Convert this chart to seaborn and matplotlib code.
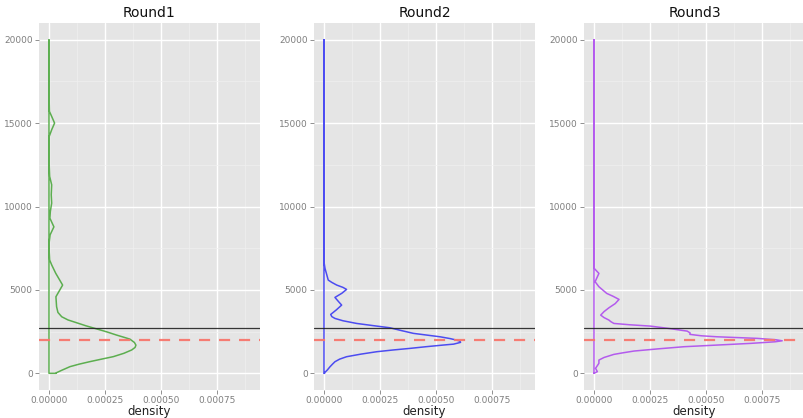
import matplotlib
matplotlib.use("Agg")
import matplotlib.pyplot as plt
import seaborn as sns
import pandas as pd

# ---- data ----
rounds = ["Round1", "Round2", "Round3"]
colors = ["#4DA83F", "#3B3BF2", "#AE4CEE"]

r1_value = [0, 40, 200, 400, 550, 700, 850, 1000, 1200, 1400, 1550, 1690, 1850, 2050,
            2150, 2290, 2500, 2690, 2850, 3030, 3200, 3390, 3650, 3990, 4590, 5290,
            6000, 6500, 6790, 7300, 7800, 8300, 8780, 9300, 9700, 10200, 10700, 11300,
            11800, 12500, 14200, 14600, 15000, 15400, 15700, 16500, 19500, 20000]
r1_density = [0.000031, 0.000034, 0.000060, 0.000094, 0.000135, 0.000183, 0.000235,
              0.000288, 0.000335, 0.000370, 0.000385, 0.000389, 0.000382, 0.000362,
              0.000338, 0.000303, 0.000255, 0.000206, 0.000165, 0.000124, 0.000085,
              0.000057, 0.000040, 0.000034, 0.000031, 0.000061, 0.000030, 0.000012,
              0.000003, 0.000001, 0.0000005, 0.000005, 0.000022, 0.000004, 0.000006,
              0.000012, 0.000010, 0.000012, 0.000003, 0.000001, 0.000001, 0.000012,
              0.000025, 0.000012, 0.000002, 0.0000005, 0.0000003, 0.0]

r2_value = [0, 60, 200, 395, 550, 695, 850, 995, 1150, 1295, 1400, 1495, 1600, 1695,
            1750, 1855, 1930, 1990, 2080, 2190, 2395, 2550, 2730, 2850, 2990, 3150,
            3290, 3400, 3530, 3800, 4090, 4300, 4550, 4800, 5030, 5150, 5290, 5450,
            5590, 6290, 6600, 7080, 10000, 15000, 20000]
r2_density = [0.000002, 0.0000045, 0.000015, 0.000027, 0.000038, 0.000049, 0.000070,
              0.000101, 0.000165, 0.000236, 0.000310, 0.000385, 0.000460, 0.000534,
              0.000580, 0.000611, 0.000608, 0.000593, 0.000565, 0.000519, 0.000400,
              0.000350, 0.000295, 0.000225, 0.000146, 0.000085, 0.000049, 0.000035,
              0.000030, 0.000055, 0.000079, 0.000065, 0.000049, 0.000080, 0.000101,
              0.000085, 0.000057, 0.000035, 0.000019, 0.0000045, 0.000001, 0.0000002,
              0.0, 0.0, 0.0]

r3_value = [0, 100, 300, 600, 795, 950, 1135, 1230, 1335, 1470, 1595, 1700, 1795, 1890,
            1950, 2010, 2095, 2190, 2250, 2335, 2420, 2530, 2680, 2830, 2910, 2990,
            3100, 3190, 3340, 3490, 3700, 3930, 4180, 4430, 4620, 4790, 5190, 5490,
            5990, 6290, 7000, 10000, 15000, 20000]
r3_density = [0.0, 0.000015, 0.000007, 0.000022, 0.000022, 0.000045, 0.000089,
              0.000130, 0.000179, 0.000290, 0.000403, 0.000560, 0.000701, 0.000810,
              0.000842, 0.000815, 0.000730, 0.000551, 0.000480, 0.000429, 0.000430,
              0.000417, 0.000340, 0.000253, 0.000160, 0.000089, 0.000075, 0.000067,
              0.000045, 0.000030, 0.000045, 0.000067, 0.000095, 0.000112, 0.000085,
              0.000057, 0.000022, 0.000005, 0.000022, 0.000001, 0.0, 0.0, 0.0, 0.0]

black_line = 2700
red_line = 2000

x_ticks = [0.0, 0.00025, 0.0005, 0.00075]
x_tick_labels = ["0.00000", "0.00025", "0.00050", "0.00075"]
y_ticks = [0, 5000, 10000, 15000, 20000]

series = [(r1_value, r1_density), (r2_value, r2_density), (r3_value, r3_density)]

# ---- style ----
sns.set_theme(style="darkgrid", rc={
    "axes.facecolor": "#E5E5E5",
    "grid.color": "white",
    "axes.edgecolor": "#E5E5E5",
    "axes.linewidth": 0,
})
plt.rcParams["font.family"] = ["DejaVu Sans"]

fig = plt.figure(figsize=(8.04, 4.18), dpi=100)
lefts = [39, 314, 584]
width_px = 221
bottom = 1 - 390 / 418
height = (390 - 23) / 418

for i, (name, col, (vals, dens)) in enumerate(zip(rounds, colors, series)):
    ax = fig.add_axes([lefts[i] / 804, bottom, width_px / 804, height])
    # closed outline: curve, then back down the zero-density baseline
    outline = pd.DataFrame({
        "value": list(vals) + [max(vals), min(vals), vals[0]],
        "density": list(dens) + [0.0, 0.0, dens[0]],
    })
    sns.lineplot(data=outline, x="density", y="value", sort=False, estimator=None,
                 color=col, lw=1.1, alpha=0.9, ax=ax)
    ax.axhline(black_line, color="#222222", lw=0.9, alpha=0.9)
    ax.axhline(red_line, color="#F8766D", lw=1.6, ls=(0, (5, 4)), alpha=0.95)

    ax.set_xlim(-0.0000447, 0.000944)
    ax.set_ylim(-1000, 21000)
    ax.set_xticks(x_ticks)
    ax.set_xticklabels(x_tick_labels)
    ax.set_yticks(y_ticks)
    ax.set_yticklabels([str(v) for v in y_ticks])
    ax.set_xticks([0.000125, 0.000375, 0.000625, 0.000875], minor=True)
    ax.set_yticks([2500, 7500, 12500, 17500], minor=True)
    ax.grid(which="major", color="white", lw=1.0)
    ax.grid(which="minor", color="#F0F0F0", lw=0.5)
    ax.tick_params(axis="both", which="major", labelsize=6.5, labelcolor="#7F7F7F",
                   color="#7F7F7F", length=3, width=0.6, pad=1.5, bottom=True, left=True)
    ax.tick_params(which="minor", length=0)
    ax.set_ylabel("")
    ax.set_xlabel("density", fontsize=8.5, color="#222222", labelpad=-0.5)
    ax.set_title(name, fontsize=10, color="#111111", pad=4)
    for s in ax.spines.values():
        s.set_visible(False)

fig.savefig("out.png", dpi=100)
